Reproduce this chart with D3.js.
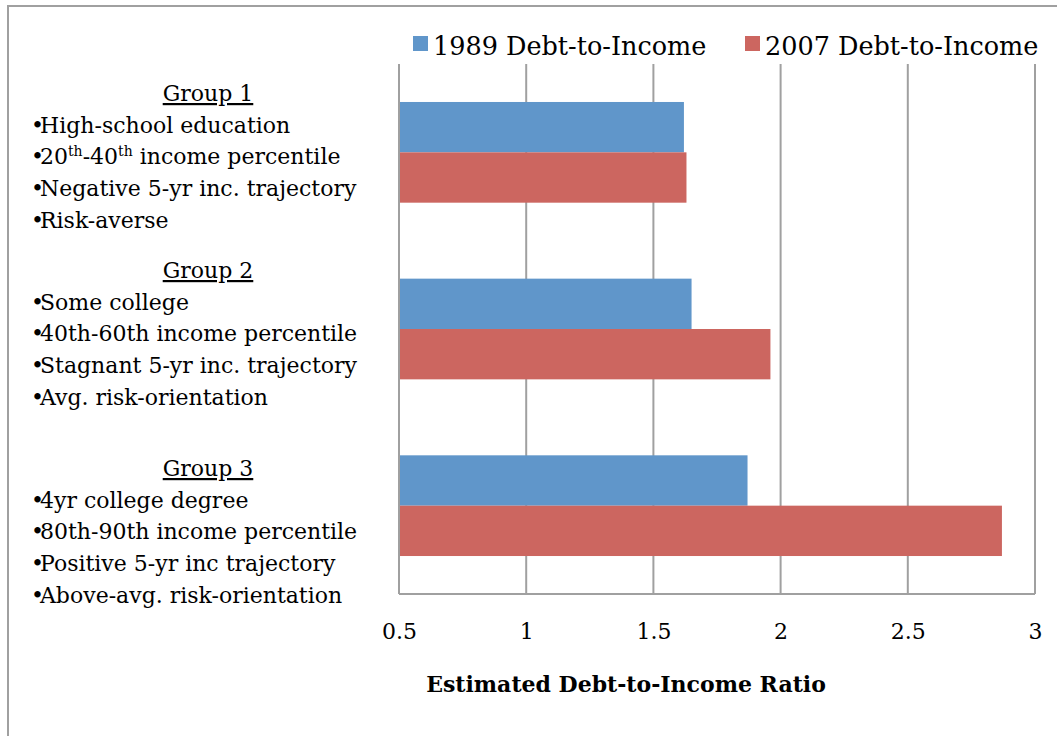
<!DOCTYPE html>
<html>
<head>
<meta charset="utf-8">
<script src="https://cdn.jsdelivr.net/npm/d3@7"></script>
<style>
  html, body { margin: 0; padding: 0; background: #fff; }
  svg { display: block; font-family: "DejaVu Serif", serif; }
</style>
</head>
<body>
<svg id="chart" width="1057" height="736"></svg>
<script>
// Estimated debt-to-income ratio per household profile group
const groups = ["Group 1", "Group 2", "Group 3"];
const seriesNames = ["1989 Debt-to-Income", "2007 Debt-to-Income"];
const values1989 = [1.62, 1.65, 1.87];
const values2007 = [1.63, 1.96, 2.87];
const seriesColors = ["#6096ca", "#cc6660"];
const xTicks = [0.5, 1, 1.5, 2, 2.5, 3];
const xTitle = "Estimated Debt-to-Income Ratio";

// Profile description lines under each group heading; parts with sup:true are superscripts
const groupLines = [
  [
    [{t: "High-school education"}],
    [{t: "20"}, {t: "th", sup: true}, {t: "-40"}, {t: "th", sup: true}, {t: " income percentile"}],
    [{t: "Negative 5-yr inc. trajectory"}],
    [{t: "Risk-averse"}]
  ],
  [
    [{t: "Some college"}],
    [{t: "40th-60th income percentile"}],
    [{t: "Stagnant 5-yr inc. trajectory"}],
    [{t: "Avg. risk-orientation"}]
  ],
  [
    [{t: "4yr college degree"}],
    [{t: "80th-90th income percentile"}],
    [{t: "Positive 5-yr inc trajectory"}],
    [{t: "Above-avg. risk-orientation"}]
  ]
];
// Heading baselines of the three label blocks
const headingY = [101, 278, 476];

const svg = d3.select("#chart");
const gridColor = "#a0a0a0";

// outer chart frame (runs past the right and bottom edges)
svg.append("rect")
  .attr("x", 8).attr("y", 6)
  .attr("width", 1200).attr("height", 900)
  .attr("fill", "none").attr("stroke", gridColor).attr("stroke-width", 2);

const plot = {left: 399, right: 1035, top: 64, bottom: 594};

const x = d3.scaleLinear().domain([0.5, 3]).range([plot.left, plot.right]);
const y = d3.scaleBand().domain(groups).range([plot.top, plot.bottom])
  .paddingInner(0.43).paddingOuter(0.215);
const ySub = d3.scaleBand().domain(seriesNames).range([0, y.bandwidth()]);

// vertical gridlines
svg.append("g").selectAll("line")
  .data(xTicks.slice(1))
  .join("line")
  .attr("x1", d => x(d)).attr("x2", d => x(d))
  .attr("y1", plot.top).attr("y2", plot.bottom)
  .attr("stroke", gridColor).attr("stroke-width", 2);

// bars
const rows = groups.map((g, i) => ({group: g, vals: [values1989[i], values2007[i]]}));
const gBars = svg.append("g");
rows.forEach(r => {
  r.vals.forEach((v, j) => {
    gBars.append("rect")
      .attr("x", x(0.5))
      .attr("y", y(r.group) + ySub(seriesNames[j]))
      .attr("width", x(v) - x(0.5))
      .attr("height", ySub.bandwidth())
      .attr("fill", seriesColors[j]);
  });
});

// axis lines (left and bottom)
svg.append("line")
  .attr("x1", plot.left).attr("x2", plot.left)
  .attr("y1", plot.top).attr("y2", plot.bottom)
  .attr("stroke", gridColor).attr("stroke-width", 2);

const xAxis = d3.axisBottom(x).tickValues(xTicks).tickSize(0).tickPadding(0)
  .tickFormat(d3.format("~g"));
const gx = svg.append("g")
  .attr("transform", `translate(0,${plot.bottom})`)
  .call(xAxis);
gx.select(".domain").attr("stroke", gridColor).attr("stroke-width", 2)
  .attr("d", `M${plot.left},0H${plot.right}`);
gx.selectAll(".tick text")
  .attr("y", 45).attr("dy", null)
  .attr("font-family", "DejaVu Serif, serif")
  .attr("font-size", 22).attr("fill", "#000");

// axis title
svg.append("text")
  .attr("x", 626).attr("y", 692)
  .attr("text-anchor", "middle")
  .attr("font-weight", "bold")
  .attr("font-size", 22)
  .text(xTitle);

// legend
const legendItems = [{x: 413}, {x: 745}];
legendItems.forEach((it, i) => {
  svg.append("rect").attr("x", it.x).attr("y", 36)
    .attr("width", 15).attr("height", 15).attr("fill", seriesColors[i]);
  svg.append("text").attr("x", it.x + 20).attr("y", 55)
    .attr("font-size", 25.5).text(seriesNames[i]);
});

// group labels
const gLabels = svg.append("g");
groups.forEach((g, i) => {
  gLabels.append("text")
    .attr("x", 208).attr("y", headingY[i])
    .attr("text-anchor", "middle")
    .attr("font-size", 22)
    .style("text-decoration", "underline")
    .text(g);
  groupLines[i].forEach((parts, k) => {
    const t = gLabels.append("text")
      .attr("x", 31).attr("y", headingY[i] + 31.7 * (k + 1))
      .attr("font-size", 22);
    t.append("tspan").text("•").style("letter-spacing", "-4px");
    parts.forEach(p => {
      const ts = t.append("tspan").text(p.t);
      if (p.sup) ts.attr("font-size", 14).attr("baseline-shift", "super");
    });
  });
});
</script>
</body>
</html>
